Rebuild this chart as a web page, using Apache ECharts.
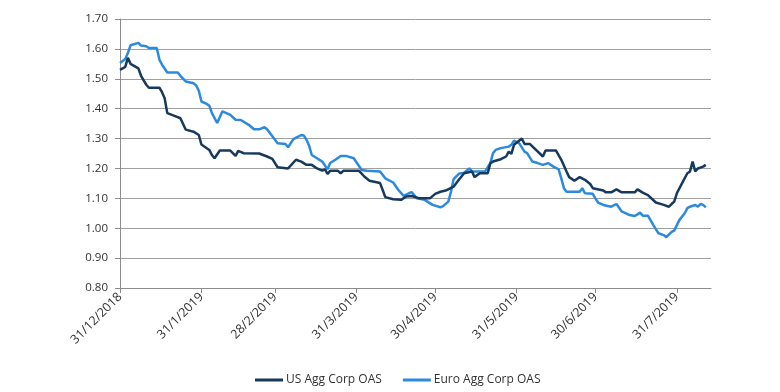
<!DOCTYPE html>
<html>
<head>
<meta charset="utf-8">
<script src="https://cdn.jsdelivr.net/npm/echarts@6/dist/echarts.min.js"></script>
<style>html,body{margin:0;padding:0;background:#fff}#c{width:780px;height:392px}</style>
</head>
<body>
<div id="c"></div>
<script>
var seriesNames = ['US Agg Corp OAS', 'Euro Agg Corp OAS'];
var startDate = '2018-12-31';
var endDate = '2019-08-13';
var tickDates = ['2018-12-31','2019-01-31','2019-02-28','2019-03-31','2019-04-30','2019-05-31','2019-06-30','2019-07-31'];
var tickLabels = ['31/12/2018','31/1/2019','28/2/2019','31/3/2019','30/4/2019','31/5/2019','30/6/2019','31/7/2019'];
var yTicks = [0.80,0.90,1.00,1.10,1.20,1.30,1.40,1.50,1.60,1.70];

var usData = [
['2018-12-31',1.53],['2019-01-02',1.54],['2019-01-03',1.57],['2019-01-04',1.55],['2019-01-07',1.535],
['2019-01-08',1.51],['2019-01-10',1.48],['2019-01-11',1.47],['2019-01-15',1.47],['2019-01-16',1.455],
['2019-01-17',1.435],['2019-01-18',1.385],['2019-01-21',1.375],['2019-01-23',1.368],['2019-01-25',1.33],
['2019-01-28',1.323],['2019-01-30',1.312],['2019-01-31',1.28],['2019-02-03',1.262],['2019-02-04',1.245],
['2019-02-05',1.234],['2019-02-07',1.26],['2019-02-11',1.26],['2019-02-13',1.242],['2019-02-14',1.259],
['2019-02-16',1.251],['2019-02-22',1.25],['2019-02-25',1.24],['2019-02-27',1.232],['2019-03-01',1.204],
['2019-03-05',1.20],['2019-03-08',1.229],['2019-03-10',1.223],['2019-03-12',1.212],['2019-03-14',1.212],
['2019-03-16',1.20],['2019-03-18',1.193],['2019-03-19',1.197],['2019-03-20',1.182],['2019-03-21',1.192],
['2019-03-24',1.192],['2019-03-25',1.184],['2019-03-26',1.192],['2019-04-01',1.192],['2019-04-03',1.173],
['2019-04-05',1.159],['2019-04-09',1.151],['2019-04-10',1.128],['2019-04-11',1.104],['2019-04-14',1.097],
['2019-04-17',1.095],['2019-04-19',1.106],['2019-04-21',1.108],['2019-04-24',1.10],['2019-04-28',1.10],
['2019-04-30',1.115],['2019-05-02',1.122],['2019-05-04',1.126],['2019-05-07',1.139],['2019-05-09',1.162],
['2019-05-11',1.184],['2019-05-14',1.19],['2019-05-15',1.171],['2019-05-17',1.184],['2019-05-20',1.184],
['2019-05-21',1.218],['2019-05-22',1.223],['2019-05-25',1.231],['2019-05-27',1.24],['2019-05-28',1.256],
['2019-05-29',1.249],['2019-05-30',1.279],['2019-06-02',1.30],['2019-06-03',1.282],['2019-06-05',1.282],
['2019-06-10',1.24],['2019-06-11',1.26],['2019-06-15',1.26],['2019-06-17',1.229],['2019-06-19',1.19],
['2019-06-20',1.171],['2019-06-22',1.159],['2019-06-24',1.171],['2019-06-26',1.162],['2019-06-28',1.148],
['2019-06-29',1.134],['2019-07-03',1.126],['2019-07-04',1.12],['2019-07-06',1.12],['2019-07-08',1.13],
['2019-07-10',1.12],['2019-07-15',1.12],['2019-07-16',1.13],['2019-07-18',1.119],['2019-07-20',1.111],
['2019-07-23',1.086],['2019-07-26',1.078],['2019-07-28',1.072],['2019-07-29',1.081],['2019-07-30',1.089],
['2019-07-31',1.117],['2019-08-02',1.151],['2019-08-04',1.184],['2019-08-05',1.19],['2019-08-06',1.223],
['2019-08-07',1.19],['2019-08-08',1.20],['2019-08-10',1.206],['2019-08-11',1.212]
];

var euroData = [
['2018-12-31',1.553],['2019-01-02',1.566],['2019-01-03',1.586],['2019-01-04',1.612],['2019-01-07',1.62],
['2019-01-08',1.611],['2019-01-10',1.609],['2019-01-11',1.603],['2019-01-14',1.603],['2019-01-15',1.564],
['2019-01-16',1.547],['2019-01-18',1.521],['2019-01-22',1.521],['2019-01-23',1.51],['2019-01-25',1.491],
['2019-01-28',1.485],['2019-01-29',1.478],['2019-01-30',1.46],['2019-01-31',1.424],['2019-02-02',1.416],
['2019-02-03',1.41],['2019-02-04',1.385],['2019-02-06',1.352],['2019-02-08',1.391],['2019-02-11',1.379],
['2019-02-13',1.363],['2019-02-15',1.362],['2019-02-18',1.346],['2019-02-20',1.331],['2019-02-22',1.331],
['2019-02-24',1.338],['2019-02-25',1.331],['2019-03-01',1.284],['2019-03-04',1.282],['2019-03-05',1.271],
['2019-03-07',1.298],['2019-03-09',1.307],['2019-03-10',1.312],['2019-03-11',1.31],['2019-03-12',1.296],
['2019-03-13',1.276],['2019-03-14',1.245],['2019-03-16',1.234],['2019-03-18',1.223],['2019-03-20',1.197],
['2019-03-21',1.218],['2019-03-23',1.229],['2019-03-25',1.242],['2019-03-27',1.242],['2019-03-30',1.234],
['2019-04-02',1.195],['2019-04-04',1.192],['2019-04-09',1.19],['2019-04-11',1.167],['2019-04-14',1.153],
['2019-04-16',1.128],['2019-04-18',1.108],['2019-04-20',1.117],['2019-04-21',1.121],['2019-04-23',1.10],
['2019-04-26',1.095],['2019-04-29',1.078],['2019-05-02',1.07],['2019-05-03',1.074],['2019-05-05',1.089],
['2019-05-06',1.122],['2019-05-07',1.164],['2019-05-09',1.182],['2019-05-11',1.186],['2019-05-13',1.20],
['2019-05-14',1.19],['2019-05-19',1.19],['2019-05-21',1.218],['2019-05-22',1.251],['2019-05-23',1.262],
['2019-05-25',1.268],['2019-05-28',1.273],['2019-05-29',1.279],['2019-05-30',1.293],['2019-06-01',1.284],
['2019-06-03',1.256],['2019-06-04',1.251],['2019-06-06',1.223],['2019-06-08',1.218],['2019-06-10',1.212],
['2019-06-12',1.218],['2019-06-14',1.206],['2019-06-16',1.197],['2019-06-17',1.167],['2019-06-18',1.134],
['2019-06-19',1.122],['2019-06-24',1.122],['2019-06-25',1.134],['2019-06-26',1.117],['2019-06-29',1.115],
['2019-06-30',1.10],['2019-07-01',1.086],['2019-07-03',1.078],['2019-07-06',1.072],['2019-07-08',1.081],
['2019-07-10',1.056],['2019-07-13',1.044],['2019-07-15',1.041],['2019-07-17',1.052],['2019-07-18',1.042],
['2019-07-20',1.042],['2019-07-22',1.011],['2019-07-24',0.983],['2019-07-26',0.977],['2019-07-27',0.97],
['2019-07-29',0.988],['2019-07-30',0.992],['2019-08-01',1.028],['2019-08-03',1.05],['2019-08-04',1.067],
['2019-08-05',1.072],['2019-08-07',1.078],['2019-08-08',1.072],['2019-08-09',1.081],['2019-08-10',1.078],
['2019-08-11',1.07]
];

// convert a date string to a day number counted from startDate
function dayNum(s){
  var p = s.split('-'), q = startDate.split('-');
  return Math.round((Date.UTC(+p[0], +p[1]-1, +p[2]) - Date.UTC(+q[0], +q[1]-1, +q[2])) / 86400000);
}
var tickDays = tickDates.map(dayNum);
var labelMap = {};
tickDays.forEach(function(d,i){ labelMap[d] = tickLabels[i]; });
function toXY(arr){ return arr.map(function(r){ return [dayNum(r[0]), r[1]]; }); }

var FONT = "'Open Sans', 'Liberation Sans', Arial, sans-serif";
var chart = echarts.init(document.getElementById('c'), null, {renderer:'canvas'});
chart.setOption({
  animation: false,
  grid: {left:120, right:69, top:19, bottom:104, containLabel:false},
  legend: {
    top: 369, left: 250,
    itemWidth: 28, itemHeight: 3, itemGap: 21,
    icon: 'rect',
    textStyle: {fontFamily: FONT, fontSize: 12, color: '#333', padding:[0,0,0,-2]},
    data: seriesNames
  },
  xAxis: {
    type: 'value',
    min: 0, max: dayNum(endDate),
    axisLine: {onZero:false, lineStyle:{color:'#8c8c8c', width:1}},
    axisTick: {show:true, length:5, lineStyle:{color:'#8c8c8c'}, customValues: tickDays},
    axisLabel: {
      rotate: 45, fontFamily: FONT, fontSize: 12.5, color: '#333', margin: 7,
      customValues: tickDays,
      formatter: function(v){ return labelMap[v] || ''; }
    },
    splitLine: {show:false}
  },
  yAxis: {
    type: 'value', min: yTicks[0], max: yTicks[yTicks.length-1], interval: 0.1,
    axisLine: {show:true, lineStyle:{color:'#8c8c8c'}},
    axisTick: {show:true, length:5, lineStyle:{color:'#8c8c8c'}},
    axisLabel: {fontFamily: FONT, fontSize: 11.5, color:'#333', margin: 12,
      formatter: function(v){ return v.toFixed(2); }},
    splitLine: {show:true, lineStyle:{color:'#a0a0a0', width:1}}
  },
  series: [
    {name: seriesNames[0], type:'line', data: toXY(usData), showSymbol:false, symbol:'none',
     lineStyle:{color:'#16395f', width:2.5}, itemStyle:{color:'#16395f'}, z:3},
    {name: seriesNames[1], type:'line', data: toXY(euroData), showSymbol:false, symbol:'none',
     lineStyle:{color:'#2b8ade', width:2.5}, itemStyle:{color:'#2b8ade'}, z:2}
  ]
});
</script>
</body>
</html>
